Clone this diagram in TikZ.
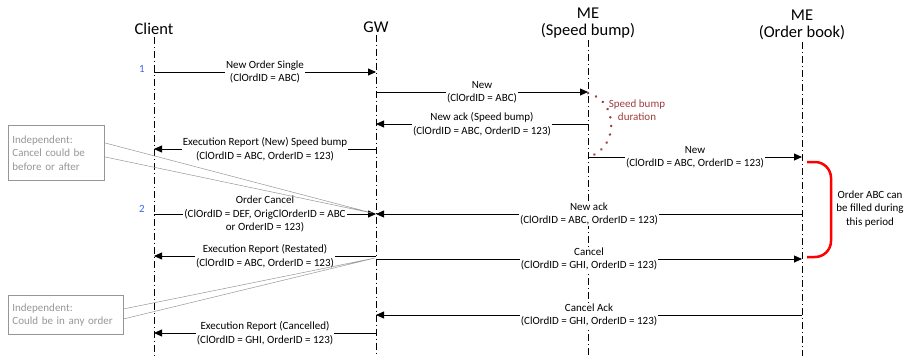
\documentclass[tikz,border=0pt]{standalone}
\usepackage{fontspec}
\setmainfont{Carlito}
\usetikzlibrary{arrows.meta,positioning,calc}
\definecolor{bumpred}{RGB}{160,60,60}
\definecolor{notegray}{RGB}{150,150,150}
\definecolor{numblue}{RGB}{60,100,230}

\begin{document}
\begin{tikzpicture}[x=1pt, y=-1pt, every node/.style={font=\fontsize{11}{13.5}\selectfont},
  head/.style={align=center, inner sep=0pt, font=\fontsize{16.5}{17}\selectfont},
  life/.style={line width=0.8pt, dash pattern=on 7pt off 3pt on 1pt off 3pt},
  msg/.style={-{Triangle[length=8pt,width=7pt]}, line width=0.8pt},
  lbl/.style={fill=white, align=center, inner sep=1pt},
  note/.style={draw=notegray, text=notegray, align=left, inner sep=4pt, line width=0.8pt, anchor=north west},
  wedge/.style={draw=notegray, line width=0.5pt}]
\useasboundingbox (0,0) rectangle (904,356);

\node[head] (client) at (154,29) {Client};
\node[head] (gw) at (376,27) {GW};
\node[head] (sb) at (588,23) {ME\\(Speed bump)};
\node[head] (ob) at (802,25) {ME\\(Order book)};

\foreach \n in {client,gw,sb,ob}
  \draw[life] ([yshift=-2pt]\n.south) -- (\n |- 0,356);

\node[text=numblue] (n1) at (142,69) {1};
\node[text=numblue] (n2) at (142,209) {2};

\draw[msg] (client |- 0,72) -- node[lbl] {New Order Single\\(ClOrdID = ABC)} (gw |- 0,72);
\draw[msg] (gw |- 0,92) -- node[lbl] {New\\(ClOrdID = ABC)} (sb |- 0,92);
\draw[msg] (sb |- 0,124) -- node[lbl] {New ack (Speed bump)\\(ClOrdID = ABC, OrderID = 123)} (gw |- 0,124);
\draw[msg] (gw |- 0,149) -- node[lbl] {Execution Report (New) Speed bump\\(ClOrdID = ABC, OrderID = 123)} (client |- 0,149);
\draw[msg] (sb |- 0,157) -- node[lbl] {New\\(ClOrdID = ABC, OrderID = 123)} (ob |- 0,157);
\draw[msg] (client |- 0,214) -- node[lbl] {Order Cancel\\(ClOrdID = DEF, OrigClOrderID = ABC\\or OrderID = 123)} (gw |- 0,214);
\draw[msg] (ob |- 0,214) -- node[lbl] {New ack\\(ClOrdID = ABC, OrderID = 123)} (gw |- 0,214);
\draw[msg] (gw |- 0,256) -- node[lbl] {Execution Report (Restated)\\(ClOrdID = ABC, OrderID = 123)} (client |- 0,256);
\draw[msg] (gw |- 0,259) -- node[lbl] {Cancel\\(ClOrdID = GHI, OrderID = 123)} (ob |- 0,259);
\draw[msg] (ob |- 0,315) -- node[lbl] {Cancel Ack\\(ClOrdID = GHI, OrderID = 123)} (gw |- 0,315);
\draw[msg] (gw |- 0,333) -- node[lbl] {Execution Report (Cancelled)\\(ClOrdID = GHI, OrderID = 123)} (client |- 0,333);

\draw[bumpred, line width=2.6pt, line cap=round, dash pattern=on 0.2pt off 8.5pt] (sb |- 0,93) .. controls (619,101) and (619,149) .. (sb |- 0,157);
\node[text=bumpred, align=center] (bump) at (637,110) {Speed bump\\duration};

\draw[red, line width=2.5pt, rounded corners=16pt] (807,162) -- (831,162) -- (831,257) -- (807,257);
\node[align=center] (fill) at (870,209) {Order ABC can\\be filled during\\this period};

\node[note, text width=88pt, minimum height=55pt] (note1) at (8,125) {Independent:\\Cancel could be\\before or after};
\node[note, text width=107pt, minimum height=39pt] (note2) at (8,295) {Independent:\\Could be in any order};
\draw[wedge] ($(note1.east)+(0,-10)$) -- (372,213) -- ($(note1.east)+(0,4)$);
\draw[wedge] ($(note2.east)+(0,-6)$) -- (375,258) -- ($(note2.east)+(0,4)$);
\end{tikzpicture}
\end{document}
